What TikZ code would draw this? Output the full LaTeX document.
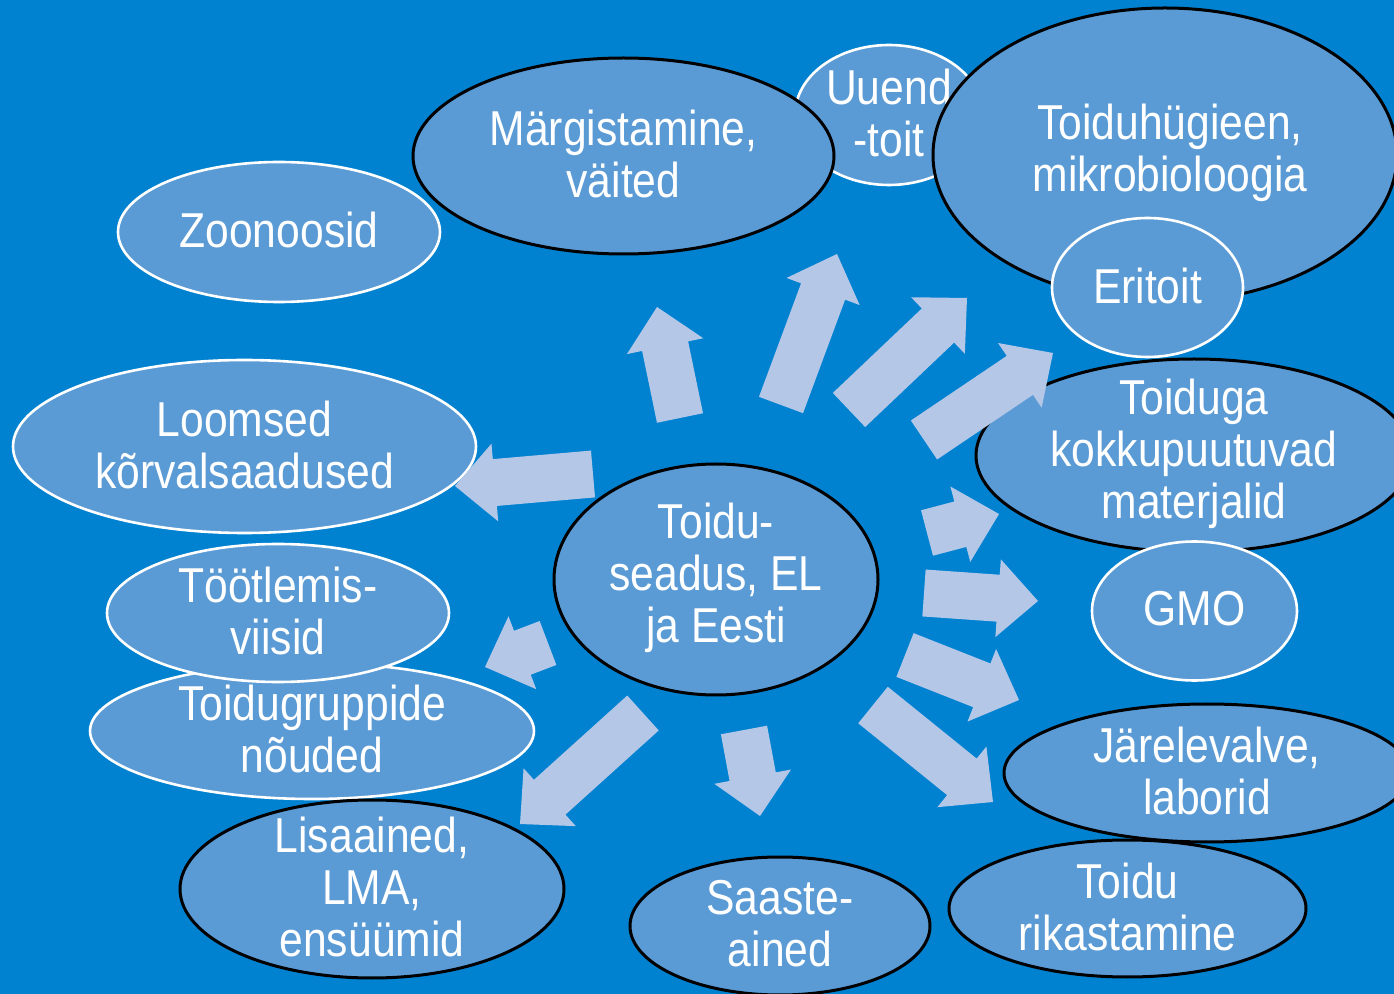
\documentclass[tikz,border=0pt]{standalone}
\usepackage{fontspec}
\setmainfont{Liberation Sans}[FakeStretch=0.87]
\usetikzlibrary{shapes.geometric,calc}
\definecolor{bgc}{HTML}{0082D1}
\definecolor{ellfill}{HTML}{5B9BD5}
\definecolor{arrfill}{HTML}{B4C7E7}
\tikzset{
 ellw/.style={ellipse, draw=white, line width=1.3pt, fill=ellfill, inner sep=0pt},
 ellb/.style={ellipse, draw=black, line width=1.5pt, fill=ellfill, inner sep=0pt},
 lbl/.style={text=white, align=center, font=\fontsize{24.5pt}{26pt}\selectfont, inner sep=0pt, yshift=1pt},
 arrstyle/.style={fill=arrfill, draw=none}
}
\newcommand\myoval[8][0]{%
 \node[#2, minimum width=#6pt, minimum height=#7pt] (#3) at (#4,#5) {};
 \node[lbl, xshift=#1pt] (#3-t) at (#3.center) {#8};}
\newcommand\blockarrow[2]{%
 \coordinate (ah) at ($(#2)!20pt!(#1)$);
 \fill[arrstyle] ($(#1)!11.75pt!90:(#2)$) -- ($(ah)!11.75pt!-90:(#1)$) -- ($(ah)!19.5pt!-90:(#1)$) -- (#2) -- ($(ah)!19.5pt!90:(#1)$) -- ($(ah)!11.75pt!90:(#1)$) -- ($(#1)!11.75pt!-90:(#2)$) -- cycle;}
\begin{document}
\begin{tikzpicture}[x=0.5pt,y=-0.5pt]
\useasboundingbox (0,0) rectangle (1394,994);
\clip (0,0) rectangle (1394,994);
\fill[bgc] (0,0) rectangle (1394,994);
% ellipses
\myoval{ellw}{uuend}{889}{115}{94}{70}{Uuend\\-toit}
\myoval{ellb}{marg}{623.5}{156}{210.5}{98}{Märgistamine,\\väited}
\myoval[2.5]{ellb}{hyg}{1165}{155}{232}{147}{Toiduhügieen,\\mikrobioloogia}
\myoval{ellw}{eri}{1147.5}{287.5}{95.5}{69.5}{Eritoit}
\myoval{ellw}{zoo}{279}{232}{161}{70}{Zoonoosid}
\myoval{ellw}{loom}{244.5}{446.5}{231.5}{86.5}{Loomsed\\kõrvalsaadused}
\myoval{ellb}{kokku}{1194}{455.5}{218}{96.5}{Toiduga\\kokkupuutuvad\\materjalid}
\myoval{ellw}{gmo}{1194.5}{611}{102.5}{69.5}{GMO}
\myoval{ellw}{grupp}{312}{731}{222}{68}{Toidugruppide\\nõuded}
\myoval{ellw}{tootl}{278}{613}{171}{69}{Töötlemis-\\viisid}
\myoval{ellb}{lisa}{372}{889}{192}{89}{Lisaained,\\LMA,\\ensüümid}
\myoval{ellb}{main}{716}{579.5}{162}{115.5}{Toidu-\\seadus, EL\\ja Eesti}
\myoval{ellb}{saaste}{780}{926}{150}{69}{Saaste-\\ained}
\myoval{ellb}{jarel}{1207}{773}{203}{69}{Järelevalve,\\laborid}
\myoval{ellb}{rikas}{1127.5}{908.5}{178.5}{68.5}{Toidu\\rikastamine}
% arrow end points
\coordinate (aT) at (680,418);  \coordinate (aP) at (657,307);
\coordinate (bT) at (781,405);  \coordinate (bP) at (837,254);
\coordinate (cT) at (849,410);  \coordinate (cP) at (967,298);
\coordinate (dT) at (924,440);  \coordinate (dP) at (1053,353);
\coordinate (eT) at (927,533);  \coordinate (eP) at (999,514);
\coordinate (fT) at (924,593);  \coordinate (fP) at (1038,601);
\coordinate (gT) at (905,655);  \coordinate (gP) at (1019,700);
\coordinate (hT) at (873,705);  \coordinate (hP) at (993,802);
\coordinate (iT) at (744,730);  \coordinate (iP) at (760,816);
\coordinate (jT) at (643,713);  \coordinate (jP) at (520,824);
\coordinate (kT) at (548,643);  \coordinate (kP) at (485,667);
\coordinate (lT) at (593,474);  \coordinate (lP) at (455,486);
\blockarrow{aT}{aP}
\blockarrow{bT}{bP}
\blockarrow{cT}{cP}
\blockarrow{dT}{dP}
\blockarrow{eT}{eP}
\blockarrow{fT}{fP}
\blockarrow{gT}{gP}
\blockarrow{hT}{hP}
\blockarrow{iT}{iP}
\blockarrow{jT}{jP}
\blockarrow{kT}{kP}
\blockarrow{lT}{lP}
\end{tikzpicture}
\end{document}
